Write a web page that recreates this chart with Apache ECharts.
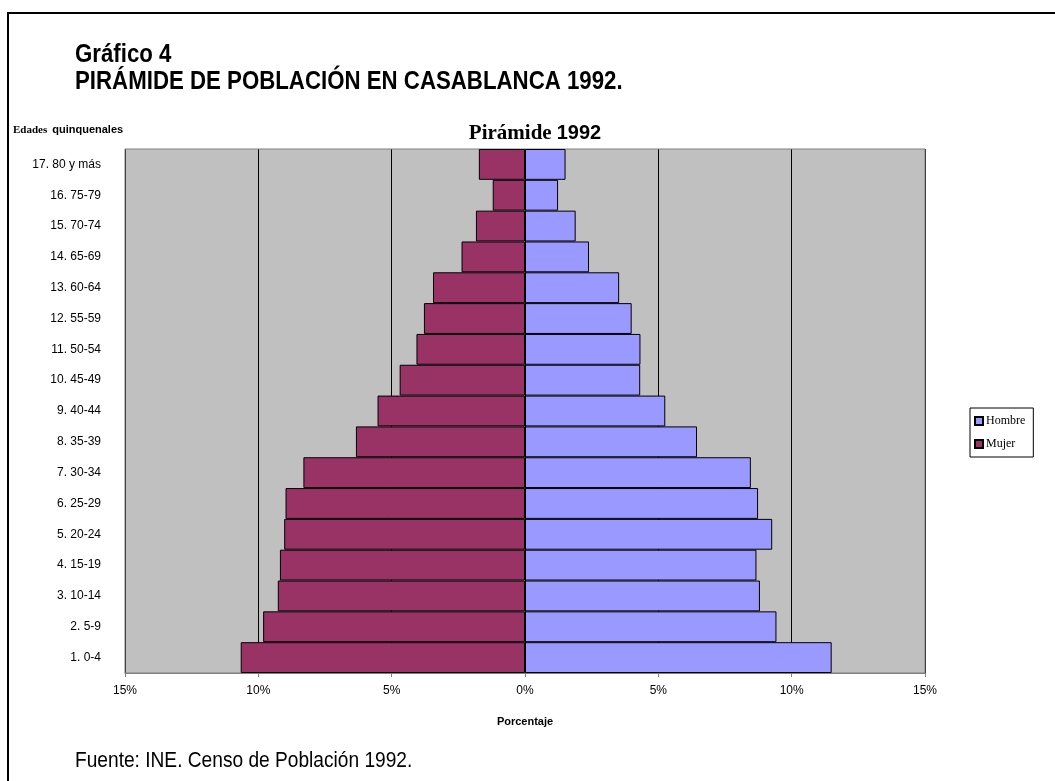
<!DOCTYPE html>
<html>
<head>
<meta charset="utf-8">
<script src="https://cdn.jsdelivr.net/npm/echarts@6/dist/echarts.min.js"></script>
<style>
  html, body { margin: 0; padding: 0; background: #fff; }
  #chart { width: 1055px; height: 781px; }
</style>
</head>
<body>
<div id="chart"></div>
<script>
// age groups, bottom to top
const ageGroups = [
  '1. 0-4', '2. 5-9', '3. 10-14', '4. 15-19', '5. 20-24', '6. 25-29',
  '7. 30-34', '8. 35-39', '9. 40-44', '10. 45-49', '11. 50-54', '12. 55-59',
  '13. 60-64', '14. 65-69', '15. 70-74', '16. 75-79', '17. 80 y más'
]
// percentages
const hombre = [11.5, 9.43, 8.81, 8.68, 9.27, 8.74, 8.47, 6.45, 5.26, 4.32, 4.33, 4.0, 3.53, 2.4, 1.9, 1.24, 1.52]
const mujer = [10.66, 9.82, 9.27, 9.19, 9.03, 8.98, 8.31, 6.34, 5.53, 4.7, 4.07, 3.79, 3.45, 2.38, 1.84, 1.21, 1.73]
const xTicks = [-15, -10, -5, 0, 5, 10, 15]

const sans = '"Liberation Sans", Arial, sans-serif'
const serif = '"Liberation Serif", serif'

const chart = echarts.init(document.getElementById('chart'))

// narrow-looking heading text (Arial Narrow is not installed, so squeeze Liberation Sans)
const narrowText = (text, x, y, size, weight, sx) => ({
  type: 'text',
  x: x,
  y: y,
  scaleX: sx,
  style: { text: text, fill: '#000', font: `${weight} ${size}px ${sans}`, textVerticalAlign: 'middle' }
})

chart.setOption({
  backgroundColor: '#ffffff',
  animation: false,
  graphic: [
    { type: 'line', shape: { x1: 7, y1: 13, x2: 1055, y2: 13 }, style: { stroke: '#000', lineWidth: 2 } },
    { type: 'line', shape: { x1: 8, y1: 12, x2: 8, y2: 781 }, style: { stroke: '#000', lineWidth: 2 } },
    narrowText('Gráfico 4', 75, 55, 25, 'bold', 0.89),
    narrowText('PIRÁMIDE DE POBLACIÓN EN CASABLANCA 1992.', 75, 82, 25, 'bold', 0.89),
    narrowText('Fuente: INE. Censo de Población 1992.', 75, 761, 22, 'normal', 0.87)
  ],
  title: [
    {
      text: '{s|Edades} {a|quinquenales}',
      left: 8,
      top: 116,
      textStyle: {
        rich: {
          s: { fontFamily: serif, fontSize: 11, fontWeight: 'bold', color: '#000' },
          a: { fontFamily: sans, fontSize: 11, fontWeight: 'bold', color: '#000' }
        }
      }
    },
    {
      text: '{s|Pirámide} {a|1992}',
      left: 530,
      textAlign: 'center',
      top: 118,
      textStyle: {
        rich: {
          s: { fontFamily: serif, fontSize: 21, fontWeight: 'bold', color: '#000' },
          a: { fontFamily: sans, fontSize: 20, fontWeight: 'bold', color: '#000' }
        }
      }
    }
  ],
  legend: {
    data: ['Hombre', 'Mujer'],
    orient: 'vertical',
    left: 970,
    top: 408,
    itemWidth: 8,
    itemHeight: 8,
    itemGap: 11,
    padding: [7, 8, 7, 4],
    borderColor: '#000',
    borderWidth: 1,
    icon: 'rect',
    textStyle: { fontFamily: serif, fontSize: 12, color: '#000', padding: [0, 0, 0, -2] }
  },
  grid: { left: 125, right: 130, top: 149, bottom: 108 },
  xAxis: {
    type: 'value',
    min: -15,
    max: 15,
    interval: 5,
    name: 'Porcentaje',
    nameLocation: 'middle',
    nameGap: 43,
    nameTextStyle: { fontFamily: sans, fontSize: 11, fontWeight: 'bold', color: '#000' },
    axisLine: { show: true, lineStyle: { color: '#808080', width: 1 } },
    axisTick: { show: true, length: 4, lineStyle: { color: '#808080' } },
    axisLabel: {
      margin: 12,
      fontFamily: sans,
      fontSize: 12,
      color: '#000',
      formatter: (v) => Math.abs(v) + '%',
      customValues: xTicks
    },
    splitLine: { show: true, lineStyle: { color: '#000', width: 1 } }
  },
  yAxis: {
    type: 'category',
    data: ageGroups,
    axisLine: { show: false },
    axisTick: { show: false },
    axisLabel: {
      margin: 24,
      fontFamily: sans,
      fontSize: 12,
      color: '#000'
    },
    splitArea: { show: true, areaStyle: { color: ['#c0c0c0'] } }
  },
  series: [
    {
      name: 'Hombre',
      type: 'bar',
      stack: 'pop',
      data: hombre,
      barCategoryGap: 0,
      itemStyle: { color: '#9999ff', borderColor: '#000', borderWidth: 1 }
    },
    {
      name: 'Mujer',
      type: 'bar',
      stack: 'pop',
      data: mujer.map((v) => -v),
      barCategoryGap: 0,
      itemStyle: { color: '#993366', borderColor: '#000', borderWidth: 1 }
    },
    {
      // plot border
      type: 'line',
      data: [],
      markArea: {
        silent: true,
        itemStyle: { color: 'rgba(0,0,0,0)', borderColor: '#808080', borderWidth: 1 },
        data: [[{ xAxis: -15, y: 149 }, { xAxis: 15, y: 673 }]]
      }
    }
  ]
})
</script>
</body>
</html>
